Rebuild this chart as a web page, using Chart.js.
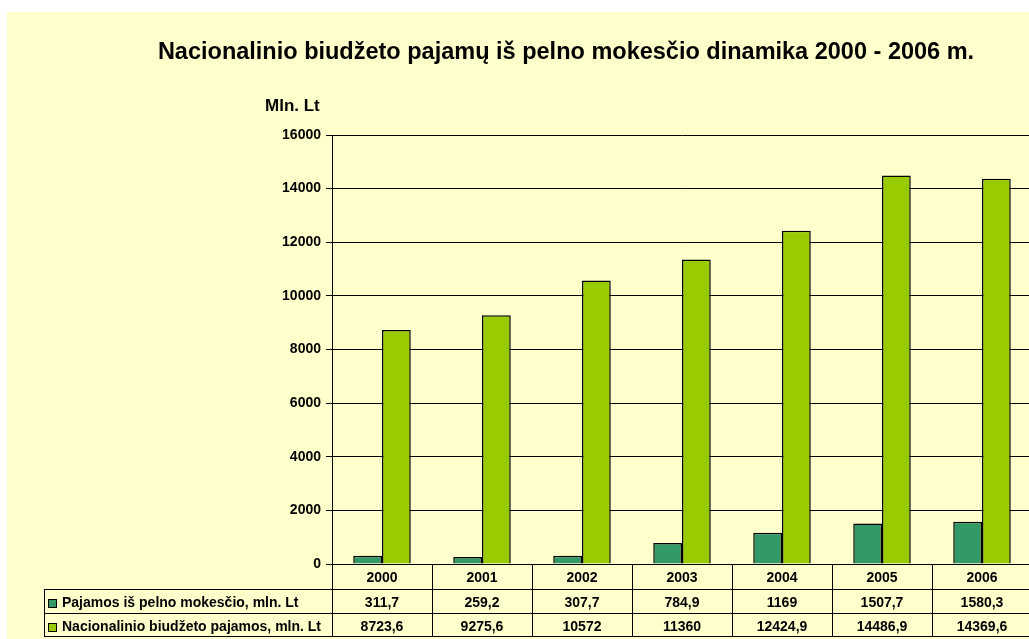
<!DOCTYPE html>
<html>
<head>
<meta charset="utf-8">
<script src="https://cdn.jsdelivr.net/npm/chart.js@4.4.0/dist/chart.umd.min.js"></script>
<style>
  html, body { margin: 0; padding: 0; background: #fff; overflow: hidden; }
  #chart { position: absolute; left: 7px; top: 12px; background: #ffffcc; }
</style>
</head>
<body>
<canvas id="chart" width="1030" height="627"></canvas>
<script>
// ==========================================
// Data
// ==========================================
const years = ["2000", "2001", "2002", "2003", "2004", "2005", "2006"];
const pelnoMokestis = [311.7, 259.2, 307.7, 784.9, 1169, 1507.7, 1580.3];
const biudzetoPajamos = [8723.6, 9275.6, 10572, 11360, 12424.9, 14486.9, 14369.6];
const seriesNames = [
    "Pajamos iš pelno mokesčio, mln. Lt",
    "Nacionalinio biudžeto pajamos, mln. Lt"
];
const yTicks = [0, 2000, 4000, 6000, 8000, 10000, 12000, 14000, 16000];

const titleText = "Nacionalinio biudžeto pajamų iš pelno mokesčio dinamika 2000 - 2006 m.";
const unitText = "Mln. Lt";

const FONT = "Arial, 'Liberation Sans', sans-serif";
const colors = ["#339966", "#99cc00"];

// lithuanian decimal comma
const fmt = v => String(v).replace(".", ",");

// =====================================================
// Title, unit label and data table (drawn on canvas)
// =====================================================
const decorations = {
    id: "decorations",
    afterDraw(chart) {
        const ctx = chart.ctx;
        const x = chart.scales.x;
        const area = chart.chartArea;
        const colW = x.width / years.length;

        ctx.save();
        ctx.fillStyle = "#000";

        // title
        ctx.font = "bold 23.5px " + FONT;
        ctx.textAlign = "center";
        ctx.textBaseline = "alphabetic";
        ctx.fillText(titleText, 559, 47);

        // unit
        ctx.font = "bold 17px " + FONT;
        ctx.textAlign = "left";
        ctx.fillText(unitText, 258, 99);

        // table grid
        const top = area.bottom;
        const rows = [top, top + 25, top + 49, top + 72];
        const leftX = 37;
        ctx.strokeStyle = "#000";
        ctx.lineWidth = 1;
        ctx.beginPath();
        for (let i = 0; i <= years.length; i++) {
            const lx = Math.round(area.left + i * colW) + 0.5;
            ctx.moveTo(lx, rows[0]);
            ctx.lineTo(lx, rows[3]);
        }
        ctx.moveTo(leftX + 0.5, rows[1]);
        ctx.lineTo(leftX + 0.5, rows[3]);
        for (let r = 1; r < rows.length; r++) {
            ctx.moveTo(leftX, rows[r] + 0.5);
            ctx.lineTo(area.right, rows[r] + 0.5);
        }
        ctx.stroke();

        // header row: years
        ctx.font = "bold 14px " + FONT;
        ctx.textAlign = "center";
        years.forEach((y, i) => {
            ctx.fillText(y, x.getPixelForValue(i), rows[0] + 18);
        });

        // series rows
        const values = [pelnoMokestis, biudzetoPajamos];
        values.forEach((arr, s) => {
            const base = rows[s + 1] + 18;
            // legend swatch
            ctx.fillStyle = colors[s];
            ctx.fillRect(41, rows[s + 1] + 10, 9, 9);
            ctx.strokeRect(41.5, rows[s + 1] + 10.5, 8, 8);
            ctx.fillStyle = "#000";
            ctx.textAlign = "left";
            ctx.fillText(seriesNames[s], 55, base);
            ctx.textAlign = "center";
            arr.forEach((v, i) => {
                ctx.fillText(fmt(v), x.getPixelForValue(i), base);
            });
        });

        ctx.restore();
    }
};

// =====================================================
// Chart.js Setup
// =====================================================
const ctx = document.getElementById("chart").getContext("2d");

const chart = new Chart(ctx, {
    type: "bar",
    data: {
        labels: years,
        datasets: [
            {
                label: seriesNames[0],
                data: pelnoMokestis,
                backgroundColor: colors[0],
                borderColor: "#000",
                borderWidth: 1.5,
                categoryPercentage: 0.575,
                barPercentage: 1.0
            },
            {
                label: seriesNames[1],
                data: biudzetoPajamos,
                backgroundColor: colors[1],
                borderColor: "#000",
                borderWidth: 1.5,
                categoryPercentage: 0.575,
                barPercentage: 1.0
            }
        ]
    },
    options: {
        responsive: false,
        animation: false,
        layout: { padding: { left: 0, right: 5, top: 123, bottom: 3 } },
        plugins: {
            legend: { display: false },
            title: { display: false },
            tooltip: { enabled: false }
        },
        scales: {
            x: {
                ticks: { display: false },
                grid: { display: false },
                border: { display: true, color: "#000", width: 1 },
                afterFit(s) { s.height = 72; }
            },
            y: {
                min: 0,
                max: 16000,
                afterBuildTicks(s) { s.ticks = yTicks.map(v => ({ value: v })); },
                ticks: {
                    color: "#000",
                    font: { family: FONT, size: 14, weight: "bold" },
                    padding: 5,
                    callback: v => String(v)
                },
                grid: { color: "#000", lineWidth: 1, tickLength: 6, drawTicks: true },
                border: { display: true, color: "#000", width: 1 },
                afterFit(s) { s.width = 325; }
            }
        }
    },
    plugins: [decorations]
});
</script>
</body>
</html>
